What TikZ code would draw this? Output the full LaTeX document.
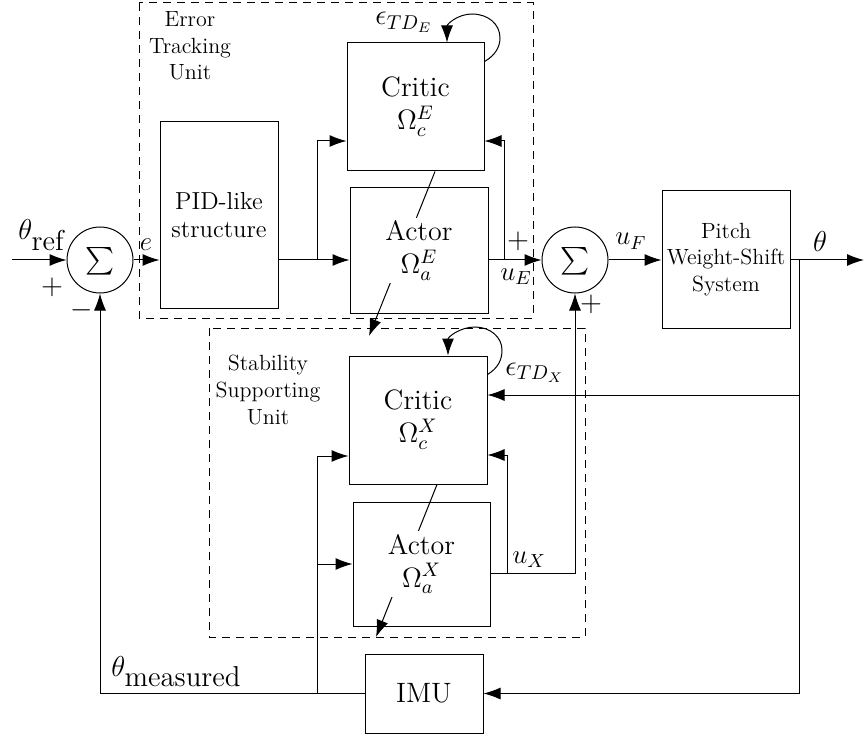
\RequirePackage{fix-cm}
\documentclass[tikz,border=0pt]{standalone}
\usetikzlibrary{arrows.meta,calc}
\begin{document}
\begin{tikzpicture}[x=0.5pt,y=-0.5pt,
  wire/.style={line width=0.5pt},
  arr/.style={line width=0.5pt,-{Latex[length=8.5pt,width=6pt]}},
  unitbox/.style={draw,line width=0.5pt,dash pattern=on 4pt off 3pt},
  block/.style={draw,line width=0.5pt,inner sep=0pt,align=center},
  sumnode/.style={circle,draw,line width=0.5pt,minimum size=33pt,inner sep=0pt},
  sumsign/.style={scale=1.38,inner sep=0pt},
  bigtxt/.style={align=center,font=\fontsize{14}{16.5}\selectfont},
  smalltxt/.style={align=center,font=\fontsize{11}{13.3}\selectfont},
  sig/.style={font=\fontsize{14.4}{17}\selectfont,inner sep=0pt},
  lbl/.style={font=\fontsize{13.5}{16}\selectfont,inner sep=0pt},
]
\useasboundingbox (0,0) rectangle (865,737);

% dashed frames of the two learning units
\draw[unitbox] (139,3) rectangle (533,318);
\draw[unitbox] (209,328) rectangle (585,637);
\node[smalltxt] (etu) at (190,46) {Error\\Tracking\\Unit};
\node[smalltxt] (ssu) at (268,390) {Stability\\Supporting\\Unit};

% summing junctions and blocks
\node[sumnode] (s1) at (100,260) {};
\node[sumnode] (s2) at (575,260) {};
\node[sumsign] (s1t) at (100,261) {$\sum$};
\node[sumsign] (s2t) at (575,261) {$\sum$};
\node[block,minimum width=59pt,minimum height=93pt,font=\fontsize{12.3}{14}\selectfont] (pid) at (219,215) {PID-like\\structure};
\node[block,bigtxt,minimum width=68.5pt,minimum height=64pt] (cE) at (415.5,107) {Critic\\$\Omega_c^E$};
\node[block,minimum width=69pt,minimum height=62.5pt] (aE) at (419,250.5) {};
\node[block,bigtxt,minimum width=69pt,minimum height=64pt] (cX) at (418,420) {Critic\\$\Omega_c^X$};
\node[block,minimum width=68.5pt,minimum height=62pt] (aX) at (421.5,564) {};
\node[block,bigtxt,minimum width=59pt,minimum height=39.5pt] (imu) at (424,693.5) {IMU};
\node[block,smalltxt,minimum width=64pt,minimum height=68.5pt] (plant) at (726,259.5) {Pitch\\Weight-Shift\\System};

% critic-to-actor update paths (pass behind the actor labels)
\coordinate (xin) at (369,336);
\coordinate (xout) at (376,637);
\draw[arr] ($(cE.south)+(19.5,0)$) -- (xin);
\draw[arr] ($(cX.south)+(19,0)$) -- (xout);
\node[bigtxt,fill=white,inner sep=1.5pt] (aEt) at (aE) {Actor\\$\Omega_a^E$};
\node[bigtxt,fill=white,inner sep=1.5pt] (aXt) at (aX) {Actor\\$\Omega_a^X$};

% temporal-difference self loops
\draw[arr] ($(cE.north east)+(0,19)$) .. controls (496,55) and (500,46) .. (500,38)
  .. controls (500,24) and (488,14) .. (472,14)
  .. controls (458,14) and (447,24) .. ($(cE.north)+(31.5,0)$);
\draw[arr] ($(cX.north east)+(0,19)$) .. controls (498,368) and (502,360) .. (502,350)
  .. controls (502,337) and (490,327) .. (475,327)
  .. controls (460,327) and (448,337) .. ($(cX.north)+(30,0)$);

% forward path
\coordinate (in) at (12,260);
\draw[arr] (in) -- (s1);
\draw[arr] (s1) -- (s1 -| pid.west);
\draw[arr] (s1 -| pid.east) -- (s1 -| aE.west);
\coordinate (jE) at (317,260);
\draw[arr] (jE) |- ($(cE.west)+(0,34)$);
\draw[arr] (s1 -| aE.east) -- (s2);
\coordinate (kE) at (504,260);
\draw[arr] (kE) |- ($(cE.east)+(0,34)$);
\draw[arr] (s2) -- (s2 -| plant.west);
\coordinate (out) at (864,260);
\draw[arr] (s2 -| plant.east) -- (out);

% feedback paths
\coordinate (jT) at (799,260);
\draw[arr] (jT) |- (imu.east);
\coordinate (jT2) at (799,395);
\draw[arr] (jT2) -- (jT2 -| cX.east);
\draw[arr] (imu.west) -| (s1.south);
\coordinate (jM) at (317,693.5);
\draw[arr] (jM) |- ($(cX.west)+(0,36)$);
\draw[arr] (jM) |- (aX.west);
\draw[arr] ($(aX.east)+(0,9)$) -| (s2.south);
\coordinate (kX) at (507,573);
\draw[arr] (kX) |- ($(cX.east)+(0,35)$);

% signal labels and signs
\node[sig,anchor=base west] (thr) at (18,240) {$\theta_{\mbox{ref}}$};
\node[sig] (p1) at (52,287) {$+$};
\node[sig] (m1) at (82,310) {$-$};
\node[lbl] (le) at (146,245) {$e$};
\node[sig] (p2) at (518,241) {$+$};
\node[sig] (p3) at (591,304) {$+$};
\node[lbl,anchor=base west] (luE) at (500,280) {$u_E$};
\node[lbl,anchor=base west] (luF) at (615,245) {$u_F$};
\node[lbl,anchor=base west] (luX) at (512,563) {$u_X$};
\node[sig] (lth) at (820,242) {$\theta$};
\node[sig,anchor=base west] (thm) at (111,676) {$\theta_{\mbox{measured}}$};
\node[sig,anchor=base west] (epE) at (375,25) {$\epsilon_{TD_E}$};
\node[sig,anchor=base west] (epX) at (505,375) {$\epsilon_{TD_X}$};
\end{tikzpicture}
\end{document}
